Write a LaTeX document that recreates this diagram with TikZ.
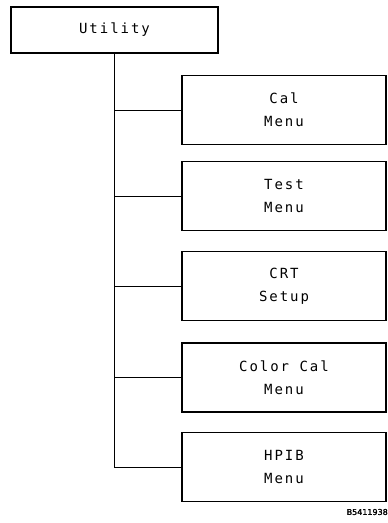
\documentclass[tikz,border=0pt]{standalone}
\usepackage{fontspec}
\newfontfamily\plotfont{DejaVu Sans Mono}[LetterSpace=14]
\newfontfamily\labfont{DejaVu Sans}[FakeBold=2]
\begin{document}
\begin{tikzpicture}[x=1pt,y=-1pt,
  menubox/.style={draw, line width=1.3pt, minimum width=204pt, minimum height=69pt, inner sep=0pt,
    align=center, font=\plotfont\fontsize{14}{23}\selectfont},
  link/.style={line width=0.7pt}]
\useasboundingbox (0,0) rectangle (388,523);
\node[menubox, minimum width=207pt, minimum height=46pt] (util) at (114.5,30) {Utility};
\node[menubox] (cal) at (284,110) {Cal\\Menu};
\node[menubox] (test) at (284,196) {Test\\Menu};
\node[menubox] (crt) at (284,286) {CRT\\Setup};
\node[menubox] (ccal) at (284,377.5) {Color Cal\\Menu};
\node[menubox] (hpib) at (284,467) {HPIB\\Menu};
\draw[link] (util.south) |- (hpib.west);
\draw[link] (util.south |- cal.west) -- (cal.west);
\draw[link] (util.south |- test.west) -- (test.west);
\draw[link] (util.south |- crt.west) -- (crt.west);
\draw[link] (util.south |- ccal.west) -- (ccal.west);
\node[anchor=east, inner sep=0pt, font=\labfont\fontsize{8}{9}\selectfont] (code) at (388,512) {B5411938};
\end{tikzpicture}
\end{document}
